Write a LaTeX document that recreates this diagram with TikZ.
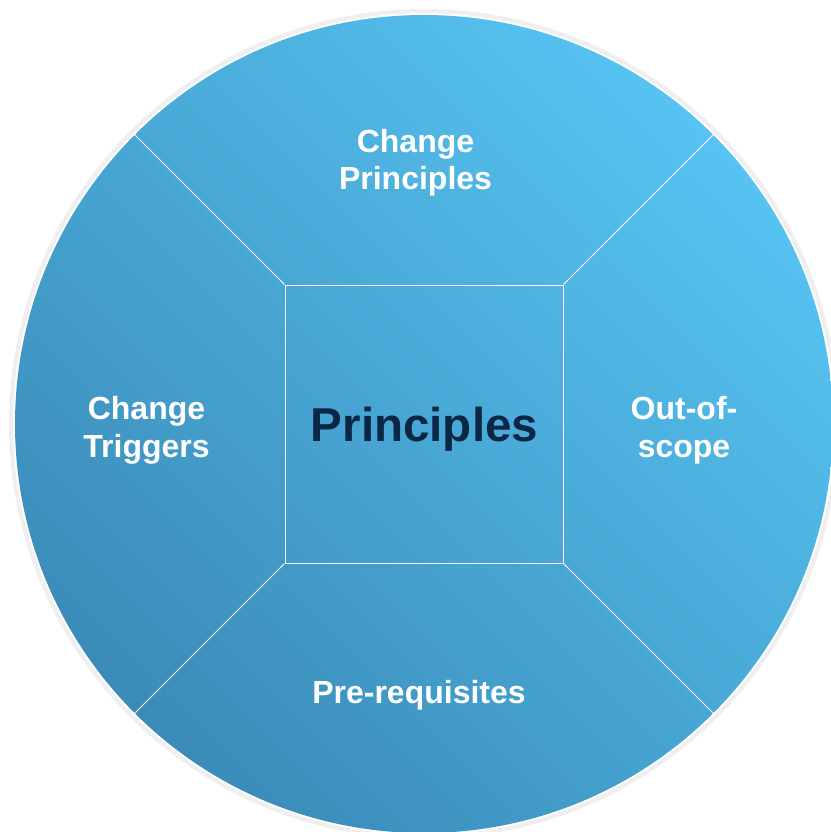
\documentclass[tikz,border=0pt]{standalone}
\usepackage{fontspec}
\setmainfont{Liberation Sans}
\definecolor{cLight}{HTML}{56C3F2}
\definecolor{cDark}{HTML}{3B8BB8}
\definecolor{ringGray}{HTML}{EFEFEF}
\definecolor{navy}{HTML}{0B2745}
\begin{document}
\begin{tikzpicture}[x=1pt,y=-1pt,
  lbl/.style={text=white, font=\fontsize{32}{37.5}\selectfont\bfseries, inner sep=0pt, anchor=base},
  divider/.style={draw=white, line width=1pt},
]
\useasboundingbox (0,0) rectangle (830,832);
\coordinate (c) at (424,424);
\draw[draw=ringGray, line width=4pt] (c) circle[radius=413];
\shade[top color=cLight, bottom color=cDark, shading angle=-45] (c) circle[radius=409];
\node[draw=white, line width=1pt, minimum size=278pt, inner sep=0pt] (sq) at (c) {};
\coordinate (tl) at (134.8,134.8);
\coordinate (tr) at (713.2,134.8);
\coordinate (bl) at (134.8,713.2);
\coordinate (br) at (713.2,713.2);
\draw[divider] (sq.north west) -- (tl);
\draw[divider] (sq.north east) -- (tr);
\draw[divider] (sq.south west) -- (bl);
\draw[divider] (sq.south east) -- (br);
\node[anchor=base, inner sep=0pt, text=navy, font=\fontsize{47.5}{57}\selectfont\bfseries] (core) at (424.5,441.7) {Principles};
\node[lbl] (top) at (415.5,152) {\begin{tabular}[t]{@{}c@{}}Change\\Principles\end{tabular}};
\node[lbl] (left) at (146.5,419.5) {\begin{tabular}[t]{@{}c@{}}Change\\Triggers\end{tabular}};
\node[lbl] (right) at (684,419.5) {\begin{tabular}[t]{@{}c@{}}Out-of-\\scope\end{tabular}};
\node[lbl] (bottom) at (419,703.3) {Pre-requisites};
\end{tikzpicture}
\end{document}
